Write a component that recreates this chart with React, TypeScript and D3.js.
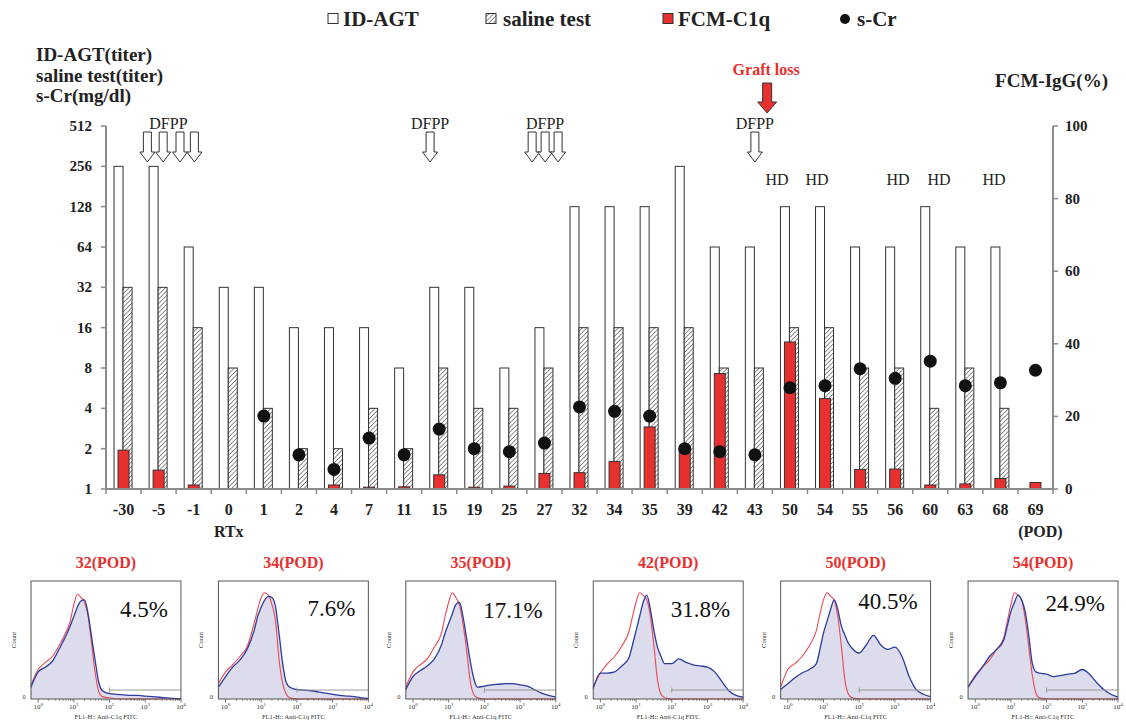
import * as d3 from "d3";

// ---- main chart data ----
const days = ["-30", "-5", "-1", "0", "1", "2", "4", "7", "11", "15", "19", "25", "27", "32", "34", "35", "39", "42", "43", "50", "54", "55", "56", "60", "63", "68", "69"];
const idAgt = [256, 256, 64, 32, 32, 16, 16, 16, 8, 32, 32, 8, 16, 128, 128, 128, 256, 64, 64, 128, 128, 64, 64, 128, 64, 64, null];
const saline = [32, 32, 16, 8, 4, 2, 2, 4, 2, 8, 4, 4, 8, 16, 16, 16, 16, 8, 8, 16, 16, 8, 8, 4, 8, 4, null];
const fcmC1q = [10.7, 5.2, 1.1, 0, 0, 0, 1.1, 0.5, 0.6, 3.9, 0.5, 0.8, 4.3, 4.5, 7.6, 17.1, 11, 31.8, 0, 40.5, 24.9, 5.4, 5.5, 1.1, 1.4, 2.9, 1.8];
const sCr = [null, null, null, null, 3.5, 1.8, 1.4, 2.4, 1.8, 2.8, 2.0, 1.9, 2.2, 4.1, 3.8, 3.5, 2.0, 1.9, 1.8, 5.7, 5.9, 7.9, 6.7, 9.0, 5.9, 6.2, 7.7];

const leftTicks = [1, 2, 4, 8, 16, 32, 64, 128, 256, 512];
const rightTicks = [0, 20, 40, 60, 80, 100];

// annotations, positions in category-index units
const dfppLabels = [1.78, 9.24, 12.52, 18.5];
const dfppArrows = [1.18, 1.63, 2.11, 2.52, 9.24, 12.15, 12.52, 12.89, 18.5];
const graftLoss = 18.85;
const hdMarks = [19.13, 20.27, 22.58, 23.75, 25.32];

// ---- flow cytometry histograms (log10 FL1 channel, fraction of panel height) ----
const flLog = [-0.2, 0, 0.2, 0.4, 0.6, 0.8, 0.9, 1.0, 1.1, 1.2, 1.3, 1.4, 1.5, 1.6, 1.7, 1.8, 2.0, 2.2, 2.4, 2.6, 2.8, 3.0, 3.2, 3.4, 3.6, 3.8, 4.0];
const histDays = ["32", "34", "35", "42", "50", "54"];
const histPct = ["4.5%", "7.6%", "17.1%", "31.8%", "40.5%", "24.9%"];
const pctBaseline = [36, 35, 37, 36, 28, 30];
const red32 = [0.12, 0.25, 0.31, 0.36, 0.46, 0.58, 0.66, 0.80, 0.89, 0.86, 0.82, 0.70, 0.46, 0.22, 0.06, 0.02, 0.01, 0, 0, 0, 0, 0, 0, 0, 0, 0, 0];
const blue32 = [0.10, 0.23, 0.27, 0.32, 0.43, 0.55, 0.62, 0.70, 0.78, 0.83, 0.84, 0.72, 0.52, 0.32, 0.14, 0.07, 0.045, 0.04, 0.035, 0.03, 0.03, 0.025, 0.02, 0.015, 0.01, 0.005, 0.003];
const red34 = [0.13, 0.23, 0.29, 0.36, 0.44, 0.64, 0.76, 0.86, 0.90, 0.88, 0.80, 0.66, 0.33, 0.13, 0.04, 0.01, 0, 0, 0, 0, 0, 0, 0, 0, 0, 0, 0];
const blue34 = [0.10, 0.19, 0.27, 0.33, 0.42, 0.58, 0.70, 0.78, 0.84, 0.87, 0.86, 0.78, 0.55, 0.30, 0.14, 0.10, 0.08, 0.075, 0.07, 0.06, 0.05, 0.04, 0.03, 0.025, 0.02, 0.01, 0.005];
const red35 = [0.10, 0.23, 0.29, 0.34, 0.44, 0.56, 0.70, 0.82, 0.90, 0.86, 0.80, 0.64, 0.42, 0.16, 0.04, 0.01, 0, 0, 0, 0, 0, 0, 0, 0, 0, 0, 0];
const blue35 = [0.08, 0.19, 0.24, 0.28, 0.34, 0.46, 0.56, 0.64, 0.72, 0.80, 0.82, 0.70, 0.52, 0.33, 0.18, 0.10, 0.11, 0.12, 0.125, 0.13, 0.13, 0.12, 0.11, 0.08, 0.05, 0.03, 0.015];
const red42 = [0.10, 0.22, 0.30, 0.36, 0.45, 0.57, 0.70, 0.82, 0.90, 0.88, 0.84, 0.70, 0.45, 0.16, 0.04, 0.01, 0, 0, 0, 0, 0, 0, 0, 0, 0, 0, 0];
const blue42 = [0.09, 0.22, 0.22, 0.23, 0.28, 0.35, 0.46, 0.58, 0.70, 0.82, 0.88, 0.76, 0.58, 0.44, 0.36, 0.30, 0.30, 0.34, 0.31, 0.29, 0.28, 0.27, 0.23, 0.15, 0.07, 0.03, 0.015];
const red50 = [0.10, 0.25, 0.30, 0.36, 0.45, 0.58, 0.72, 0.84, 0.90, 0.87, 0.84, 0.70, 0.45, 0.16, 0.04, 0.01, 0, 0, 0, 0, 0, 0, 0, 0, 0, 0, 0];
const blue50 = [0.08, 0.13, 0.18, 0.22, 0.25, 0.30, 0.42, 0.56, 0.66, 0.76, 0.84, 0.76, 0.62, 0.54, 0.47, 0.43, 0.39, 0.46, 0.54, 0.46, 0.42, 0.44, 0.36, 0.19, 0.08, 0.04, 0.02];
const red54 = [0.10, 0.20, 0.27, 0.33, 0.42, 0.52, 0.66, 0.80, 0.90, 0.88, 0.84, 0.68, 0.44, 0.20, 0.05, 0.01, 0, 0, 0, 0, 0, 0, 0, 0, 0, 0, 0];
const blue54 = [0.10, 0.19, 0.27, 0.36, 0.42, 0.50, 0.62, 0.74, 0.82, 0.88, 0.84, 0.74, 0.54, 0.30, 0.23, 0.22, 0.21, 0.19, 0.20, 0.21, 0.22, 0.25, 0.21, 0.14, 0.08, 0.04, 0.015];
const histRed = [red32, red34, red35, red42, red50, red54];
const histBlue = [blue32, blue34, blue35, blue42, blue50, blue54];

const SERIF = "'Liberation Serif', 'Times New Roman', serif";
const RED = "#e8302f";
const AXIS = "#8a8a8a";

const plot = { left: 106, right: 1053, top: 126, bottom: 489 };

function hollowArrow(cx: number, y0: number) {
  const sw = 4, hw = 7.5, yh = y0 + 20, yt = y0 + 30;
  return `M${cx - sw},${y0}L${cx + sw},${y0}L${cx + sw},${yh}L${cx + hw},${yh}L${cx},${yt}L${cx - hw},${yh}L${cx - sw},${yh}Z`;
}

const Histogram = ({ i, left, width }: { i: number; left: number; width: number }) => {
  const top = 581, ph = 118;
  const hx = d3.scaleLog().domain([10 ** -0.2, 1e4]).range([0, width]);
  const hy = d3.scaleLinear().domain([0, 1]).range([ph, 0]);
  const pts = (vals: number[]) => flLog.map((L, k) => [hx(10 ** L), hy(vals[k])] as [number, number]);
  const line = d3.line().curve(d3.curveMonotoneX);
  const area = d3.area().curve(d3.curveMonotoneX).x((d) => d[0]).y0(ph).y1((d) => d[1]);
  const bluePts = pts(histBlue[i]);
  const redPts = pts(histRed[i]);
  const majors = [0, 1, 2, 3, 4];
  const minors: number[] = [];
  for (let dec = 0; dec < 4; dec++) for (let m = 2; m <= 9; m++) minors.push(m * 10 ** dec);
  return (
    <g transform={`translate(${left},${top})`}>
      <text x={width / 2} y={-13} textAnchor="middle" fontFamily={SERIF} fontWeight="bold" fontSize={16} fill={RED}>
        {histDays[i]}(POD)
      </text>
      <path d={area(bluePts) || ""} fill="#dcdcec" />
      <path d={line(redPts) || ""} fill="none" stroke="#e84a55" strokeWidth={1.1} />
      <path d={line(bluePts) || ""} fill="none" stroke="#2b3b9e" strokeWidth={1.3} />
      {/* gate marker */}
      <line x1={hx(100)} x2={width} y1={hy(0.076)} y2={hy(0.076)} stroke="#999" strokeWidth={1} />
      <line x1={hx(100)} x2={hx(100)} y1={hy(0.076) - 2.5} y2={hy(0.076) + 2.5} stroke="#999" strokeWidth={1} />
      <rect x={0} y={0} width={width} height={ph} fill="none" stroke="#555" strokeWidth={1} />
      {minors.map((v) => (
        <line key={v} x1={hx(v)} x2={hx(v)} y1={ph} y2={ph + 2} stroke="#555" strokeWidth={0.6} />
      ))}
      {majors.map((e) => (
        <g key={e}>
          <line x1={hx(10 ** e)} x2={hx(10 ** e)} y1={ph} y2={ph + 3.5} stroke="#555" strokeWidth={0.8} />
          <text x={hx(10 ** e)} y={ph + 10} textAnchor="middle" fontFamily={SERIF} fontSize={7} fill="#333">
            10<tspan dy={-3} fontSize={5}>{e}</tspan>
          </text>
        </g>
      ))}
      <text x={-7} y={ph} textAnchor="middle" fontFamily={SERIF} fontSize={6.5} fill="#333">0</text>
      <text transform={`translate(${-15},${ph / 2}) rotate(-90)`} textAnchor="middle" fontFamily={SERIF} fontSize={6.5} fill="#333">Count</text>
      <text x={width / 2} y={ph + 20} textAnchor="middle" fontFamily={SERIF} fontSize={6.5} fill="#333">FL1-H:: Anti-C1q FITC</text>
      <text x={width - 13} y={pctBaseline[i]} textAnchor="end" fontFamily={SERIF} fontSize={23} fill="#111">
        {histPct[i]}
      </text>
    </g>
  );
};

export default function App() {
  const x = d3.scaleBand().domain(days).range([plot.left, plot.right]);
  const bw = x.bandwidth();
  const xi = d3.scaleLinear().domain([0, days.length]).range([plot.left, plot.right]);
  const yL = d3.scaleLog().base(2).domain([1, 512]).range([plot.bottom, plot.top]);
  const yR = d3.scaleLinear().domain([0, 100]).range([plot.bottom, plot.top]);
  const cx = (d: string) => (x(d) as number) + bw / 2;

  const panels = d3.scaleBand<number>().domain(d3.range(histDays.length)).range([31, 1118]).paddingInner(0.2);

  return (
    <svg width={1126} height={723} style={{ position: "absolute", left: 0, top: 0, background: "#fff" }}>
      <defs>
        <pattern id="hatch" width={3.2} height={3.2} patternUnits="userSpaceOnUse" patternTransform="rotate(45)">
          <rect width={3.2} height={3.2} fill="#fff" />
          <line x1={0} y1={0} x2={0} y2={3.2} stroke="#555" strokeWidth={1.3} />
        </pattern>
      </defs>
      <rect width={1126} height={723} fill="#fff" />

      {/* legend */}
      <g fontFamily={SERIF} fontWeight="bold" fontSize={21} fill="#222">
        <rect x={328} y={13.5} width={10} height={10} fill="#fff" stroke="#333" strokeWidth={1} />
        <text x={343} y={26}>ID-AGT</text>
        <rect x={486} y={13.5} width={10} height={10} fill="url(#hatch)" stroke="#333" strokeWidth={1} />
        <text x={503} y={26}>saline test</text>
        <rect x={663} y={13.5} width={10} height={10} fill={RED} stroke="#333" strokeWidth={1} />
        <text x={678} y={26}>FCM-C1q</text>
        <circle cx={845} cy={19} r={5} fill="#111" />
        <text x={857} y={26}>s-Cr</text>
      </g>

      {/* axis titles */}
      <g fontFamily={SERIF} fontWeight="bold" fontSize={19} fill="#222">
        <text x={36} y={61}>ID-AGT(titer)</text>
        <text x={36} y={82}>saline test(titer)</text>
        <text x={36} y={102}>s-Cr(mg/dl)</text>
        <text x={1108} y={87} textAnchor="end">FCM-IgG(%)</text>
      </g>

      {/* bars */}
      {days.map((d, i) => (
        <g key={d}>
          {idAgt[i] != null && (
            <rect x={cx(d) - 9.5} y={yL(idAgt[i] as number)} width={9} height={plot.bottom - yL(idAgt[i] as number)} fill="#fff" stroke="#333" strokeWidth={1} />
          )}
          {saline[i] != null && (
            <rect x={cx(d) - 0.5} y={yL(saline[i] as number)} width={9} height={plot.bottom - yL(saline[i] as number)} fill="url(#hatch)" stroke="#333" strokeWidth={1} />
          )}
          {fcmC1q[i] > 0 && (
            <rect x={cx(d) - 5.5} y={yR(fcmC1q[i])} width={11} height={plot.bottom - yR(fcmC1q[i])} fill={RED} stroke="#333" strokeWidth={1} />
          )}
        </g>
      ))}

      {/* s-Cr dots */}
      {days.map((d, i) =>
        sCr[i] != null ? <circle key={d} cx={cx(d)} cy={yL(sCr[i] as number)} r={6.5} fill="#111" /> : null
      )}

      {/* left axis */}
      <line x1={plot.left} x2={plot.left} y1={plot.top} y2={plot.bottom} stroke={AXIS} strokeWidth={2} />
      {leftTicks.map((t) => (
        <g key={t}>
          <line x1={plot.left - 5} x2={plot.left} y1={yL(t)} y2={yL(t)} stroke={AXIS} strokeWidth={1.5} />
          <text x={92} y={yL(t) + 5} textAnchor="end" fontFamily={SERIF} fontWeight="bold" fontSize={15} fill="#222">{t}</text>
        </g>
      ))}
      {/* right axis */}
      <line x1={plot.right} x2={plot.right} y1={plot.top} y2={plot.bottom} stroke={AXIS} strokeWidth={2} />
      {rightTicks.map((t) => (
        <g key={t}>
          <line x1={plot.right} x2={plot.right + 5} y1={yR(t)} y2={yR(t)} stroke={AXIS} strokeWidth={1.5} />
          <text x={1065} y={yR(t) + 5} fontFamily={SERIF} fontWeight="bold" fontSize={15} fill="#222">{t}</text>
        </g>
      ))}
      {/* bottom axis */}
      <line x1={plot.left} x2={plot.right} y1={plot.bottom} y2={plot.bottom} stroke={AXIS} strokeWidth={2} />
      {d3.range(days.length + 1).map((k) => (
        <line key={k} x1={xi(k)} x2={xi(k)} y1={plot.bottom} y2={plot.bottom + 5} stroke={AXIS} strokeWidth={1.5} />
      ))}
      {days.map((d) => (
        <text key={d} x={cx(d)} y={515} textAnchor="middle" fontFamily={SERIF} fontWeight="bold" fontSize={16} fill="#222">{d}</text>
      ))}
      <text x={cx("0")} y={537} textAnchor="middle" fontFamily={SERIF} fontWeight="bold" fontSize={16} fill="#222">RTx</text>
      <text x={cx("69") + 5} y={537} textAnchor="middle" fontFamily={SERIF} fontWeight="bold" fontSize={16} fill="#222">(POD)</text>

      {/* DFPP annotations */}
      {dfppLabels.map((p) => (
        <text key={p} x={xi(p)} y={129} textAnchor="middle" fontFamily={SERIF} fontSize={16} fill="#222">DFPP</text>
      ))}
      {dfppArrows.map((p) => (
        <path key={p} d={hollowArrow(xi(p), 132)} fill="#fff" stroke="#333" strokeWidth={1} />
      ))}
      <text x={xi(graftLoss) - 1} y={75} textAnchor="middle" fontFamily={SERIF} fontWeight="bold" fontSize={16} fill={RED}>Graft loss</text>
      <path
        d={`M${xi(graftLoss) - 4.5},83L${xi(graftLoss) + 4.5},83L${xi(graftLoss) + 4.5},102L${xi(graftLoss) + 9.5},102L${xi(graftLoss)},113L${xi(graftLoss) - 9.5},102L${xi(graftLoss) - 4.5},102Z`}
        fill={RED}
        stroke="#333"
        strokeWidth={1}
      />
      {hdMarks.map((p) => (
        <text key={p} x={xi(p)} y={185} textAnchor="middle" fontFamily={SERIF} fontSize={16} fill="#222">HD</text>
      ))}

      {/* histograms */}
      {histDays.map((_, i) => (
        <Histogram key={i} i={i} left={panels(i) as number} width={panels.bandwidth()} />
      ))}
    </svg>
  );
}
